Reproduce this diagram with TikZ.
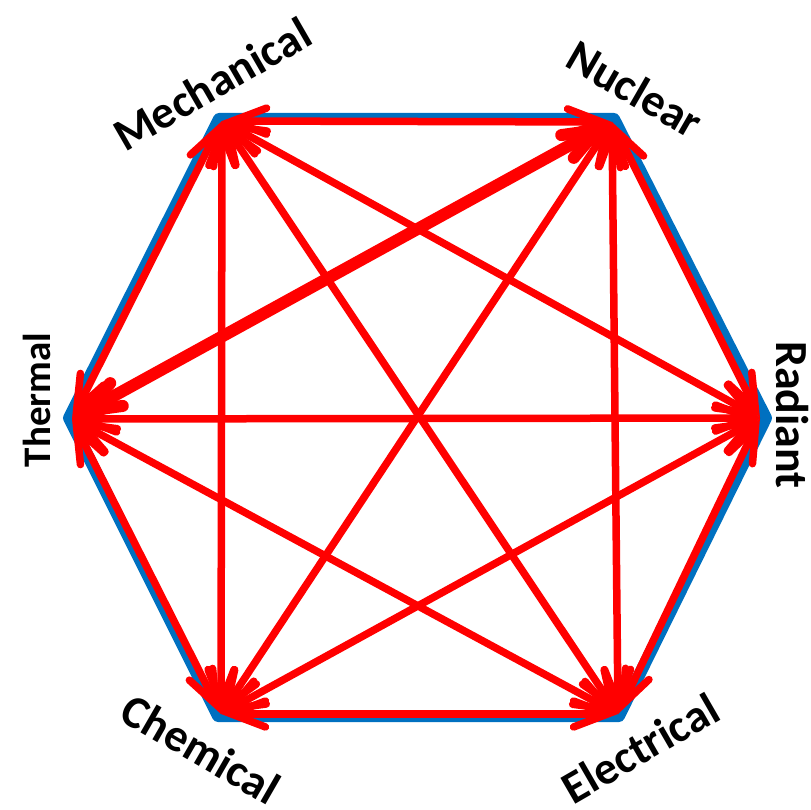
\documentclass[tikz,border=0pt]{standalone}
\usepackage{fontspec}
\setmainfont{Carlito}
\usetikzlibrary{arrows.meta}
\definecolor{hexblue}{RGB}{0,112,192}
\definecolor{arrred}{RGB}{255,0,0}
\tikzset{
  hexedge/.style={draw=hexblue, line width=12pt, line join=round},
  barb/.tip={Straight Barb[length=34pt,width=26pt,line cap=round]},
  conv/.style={draw=arrred, line width=7.5pt, line cap=round, barb-barb},
  lbl/.style={font=\fontsize{46}{48}\selectfont\bfseries, text=black, inner sep=0pt},
  lblsmall/.style={lbl, font=\fontsize{39}{41}\selectfont\bfseries}
}
\begin{document}
\begin{tikzpicture}[x=1pt,y=-1pt]
\useasboundingbox (0,0) rectangle (810,810);
% hexagon
\coordinate (hM) at (219,119);
\coordinate (hN) at (614,119);
\coordinate (hR) at (766,418);
\coordinate (hE) at (619,716);
\coordinate (hC) at (218,716);
\coordinate (hT) at (69,418);
\draw[hexedge] (hM) -- (hN) -- (hR) -- (hE) -- (hC) -- (hT) -- cycle;
% arrow ends
\coordinate (M) at (222,121);
\coordinate (N) at (612,122);
\coordinate (R) at (760,418);
\coordinate (E) at (618,714);
\coordinate (C) at (221,714);
\coordinate (T) at (72,419);
% edges
\draw[conv] (M) -- (N);
\draw[conv] (N) -- (R);
\draw[conv] (R) -- (E);
\draw[conv] (E) -- (C);
\draw[conv] (C) -- (T);
\draw[conv] (T) -- (M);
% diagonals
\draw[conv] (M) -- (R);
\draw[conv] (M) -- (E);
\draw[conv] (M) -- (C);
\draw[conv, line width=12pt] (N) -- (T);
\draw[conv] (N) -- (E);
\draw[conv] (N) -- (C);
\draw[conv] (R) -- (T);
\draw[conv] (R) -- (C);
\draw[conv] (E) -- (T);
% labels
\node[lbl, rotate=30] (lM) at (212,84) {Mechanical};
\node[lbl, rotate=-30] (lN) at (635,89) {Nuclear};
\node[lbl, rotate=-90] (lR) at (792,415) {Radiant};
\node[lblsmall, rotate=90] (lT) at (37,400) {Thermal};
\node[lbl, rotate=-30] (lC) at (201,749) {Chemical};
\node[lbl, rotate=30] (lE) at (640,748) {Electrical};
\end{tikzpicture}
\end{document}
